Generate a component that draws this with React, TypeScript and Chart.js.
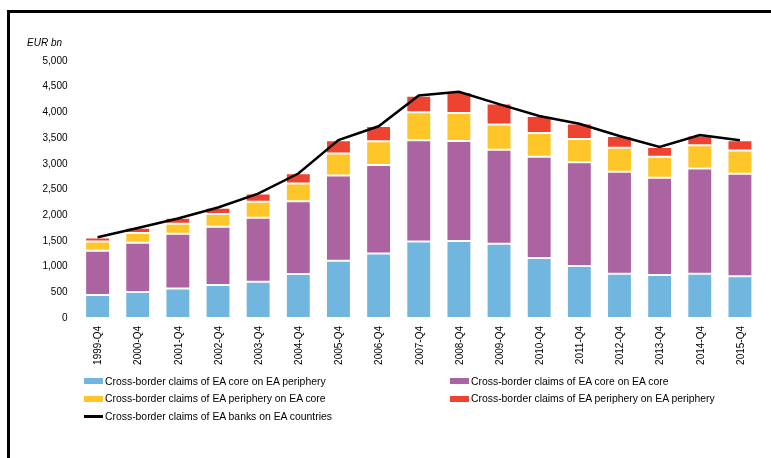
import React, { useEffect, useRef } from "react";
import { Chart, registerables } from "chart.js";

Chart.register(...registerables);

const categories = [
  "1999-Q4", "2000-Q4", "2001-Q4", "2002-Q4", "2003-Q4", "2004-Q4", "2005-Q4", "2006-Q4",
  "2007-Q4", "2008-Q4", "2009-Q4", "2010-Q4", "2011-Q4", "2012-Q4", "2013-Q4", "2014-Q4", "2015-Q4",
];

const coreOnPeriphery = [447, 505, 576, 641, 706, 855, 1114, 1256, 1490, 1496, 1444, 1166, 1010, 861, 835, 861, 810];
const coreOnCore = [861, 959, 1063, 1134, 1244, 1418, 1658, 1720, 1969, 1950, 1827, 1969, 2021, 1982, 1892, 2047, 1994];
const peripheryOnCore = [182, 188, 194, 246, 310, 344, 428, 462, 544, 544, 492, 466, 453, 467, 408, 453, 454];
const peripheryOnPeriphery = [77, 103, 117, 123, 162, 200, 258, 295, 323, 408, 408, 330, 298, 233, 194, 188, 201];
const totalClaims = [1570, 1750, 1935, 2150, 2420, 2810, 3460, 3730, 4330, 4400, 4160, 3930, 3780, 3540, 3330, 3560, 3460];

const seriesNames = [
  "Cross-border claims of EA core on EA periphery",
  "Cross-border claims of EA core on EA core",
  "Cross-border claims of EA periphery on EA core",
  "Cross-border claims of EA periphery on EA periphery",
  "Cross-border claims of EA banks on EA countries",
];

const colors = ["#71B6DE", "#AB63A1", "#FFC62A", "#EE4330", "#000000"];

const FONT = "'Liberation Sans', Arial, sans-serif";

export default function App() {
  const ref = useRef<HTMLCanvasElement | null>(null);

  useEffect(() => {
    document.body.style.margin = "0";
    document.body.style.overflow = "hidden";
    const canvas = ref.current;
    if (!canvas) return;
    const barSets = [coreOnPeriphery, coreOnCore, peripheryOnCore, peripheryOnPeriphery];
    const chart = new Chart(canvas, {
      type: "bar",
      data: {
        labels: categories,
        datasets: [
          {
            type: "line",
            label: seriesNames[4],
            data: totalClaims,
            borderColor: colors[4],
            borderWidth: 2.5,
            pointRadius: 0,
            tension: 0,
            fill: false,
            stack: "total",
            order: 0,
          } as any,
          ...barSets.map((d, i) => ({
            type: "bar",
            label: seriesNames[i],
            data: d,
            backgroundColor: colors[i],
            borderColor: "rgba(255,255,255,0.45)",
            borderWidth: 1,
            borderSkipped: false,
            stack: "bars",
            order: 1,
            barPercentage: 0.62,
            categoryPercentage: 1,
          })),
        ],
      },
      options: {
        animation: false,
        responsive: false,
        devicePixelRatio: 1,
        layout: { padding: { top: 61, right: 11, bottom: 90, left: 0 } },
        plugins: { legend: { display: false }, tooltip: { enabled: false } },
        scales: {
          x: {
            stacked: true,
            grid: { display: false, drawTicks: false },
            border: { display: false },
            ticks: {
              maxRotation: 90,
              minRotation: 90,
              autoSkip: false,
              padding: 8,
              labelOffset: 1,
              color: "#000",
              font: { family: FONT, size: 10 },
            },
            afterFit: (s: any) => {
              s.height = 50;
            },
          },
          y: {
            stacked: true,
            min: 0,
            max: 5000,
            grid: { display: false, drawTicks: false },
            border: { display: false },
            ticks: {
              stepSize: 500,
              padding: 10,
              color: "#000",
              font: { family: FONT, size: 10 },
              callback: (v: any) => Number(v).toLocaleString("en-US"),
            },
            afterFit: (s: any) => {
              s.width = 77.5;
            },
          },
        },
      },
    });
    return () => chart.destroy();
  }, []);

  const legendRows = [
    { i: 0, x: 84, y: 381 },
    { i: 1, x: 450, y: 381 },
    { i: 2, x: 84, y: 398.5 },
    { i: 3, x: 450, y: 398.5 },
    { i: 4, x: 84, y: 416.5 },
  ];

  return (
    <div style={{ position: "fixed", left: 0, top: 0, width: 771, height: 458, overflow: "hidden", background: "#fff", fontFamily: FONT }}>
      <canvas ref={ref} width={771} height={458} style={{ position: "absolute", left: 0, top: 0, width: 771, height: 458 }} />
      <div style={{ position: "absolute", left: 7, top: 10, right: 0, bottom: 0, borderTop: "3px solid #000", borderLeft: "3px solid #000", pointerEvents: "none" }} />
      <div style={{ position: "absolute", left: 27, top: 37, fontSize: 10, fontStyle: "italic", color: "#000", lineHeight: "12px" }}>EUR bn</div>
      {legendRows.map((r) => (
        <div key={r.i} style={{ position: "absolute", left: r.x, top: r.y - 7, height: 14, display: "flex", alignItems: "center", whiteSpace: "nowrap" }}>
          <span
            style={{
              display: "inline-block",
              width: 19,
              height: r.i === 4 ? 2.5 : 6,
              background: colors[r.i],
              marginRight: 2,
            }}
          />
          <span style={{ fontSize: 10.4, color: "#000" }}>{seriesNames[r.i]}</span>
        </div>
      ))}
    </div>
  );
}
